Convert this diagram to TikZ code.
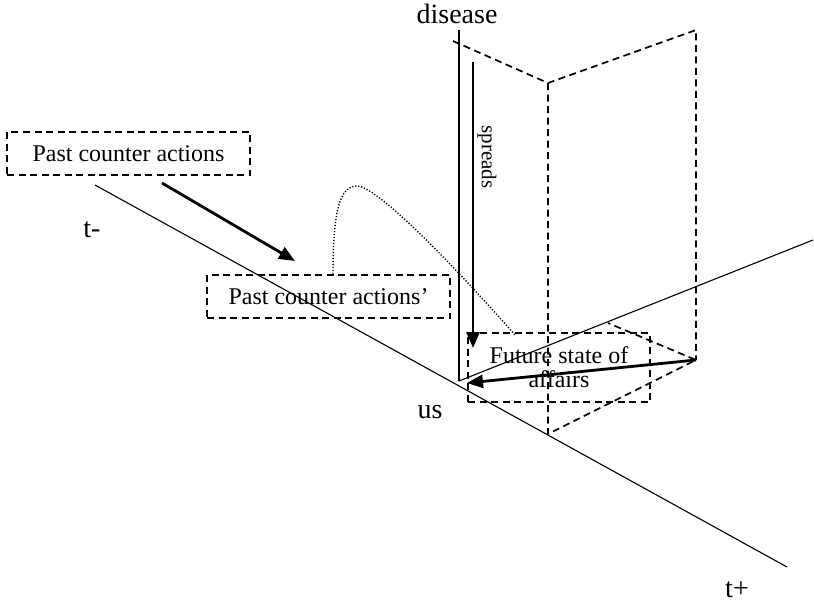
\documentclass[tikz,border=0pt]{standalone}
\usepackage{fontspec}
\setmainfont{Liberation Serif}
\usetikzlibrary{arrows.meta}
\begin{document}
\begin{tikzpicture}[x=1pt,y=-1pt,
  axis/.style={line width=1.1pt},
  dashline/.style={line width=1.7pt,dash pattern=on 7pt off 4.5pt},
  dashbox/.style={draw,line width=1.7pt,dash pattern=on 7pt off 4.5pt,inner sep=0pt,font=\fontsize{24}{24}\selectfont},
  bigarrow/.style={line width=2.8pt,-{Triangle[length=16pt,width=13pt]}},
  dotcurve/.style={line width=1.4pt,dash pattern=on 1.2pt off 1.8pt},
  lab/.style={font=\fontsize{28}{28}\selectfont,anchor=base,inner sep=0pt}]
\useasboundingbox (0,0) rectangle (814,603);
% axes
\coordinate (O) at (459,381);
\coordinate (Vtop) at (459,30);
\coordinate (Tm) at (95,185);
\coordinate (Tmend) at (787,567);
\coordinate (Tp) at (813,240);
\draw[axis] (Vtop) -- (O);
\draw[axis] (O) -- (Tp);
\draw[axis] (Tm) -- (Tmend);
% dashed planes
\coordinate (A) at (453,41);
\coordinate (B) at (548,83);
\coordinate (C) at (696,30);
\coordinate (D) at (696,360);
\coordinate (E) at (548,434);
\coordinate (F) at (608,323);
\draw[dashline] (A) -- (B) -- (C) -- (D);
\draw[dashline] (B) -- (E) -- (D) -- (F);
% boxes
\node[dashbox,minimum width=243pt,minimum height=43pt] (pca) at (128.5,153.5) {Past counter actions};
\node[dashbox,minimum width=243pt,minimum height=43pt] (pcb) at (328.5,296.5) {Past counter actions’};
\node[dashbox,minimum width=182pt,minimum height=69pt,align=center] (fut) at (559,367.5) {Future state of\\affairs};
% labels
\node[lab] (dis) at (457,23) {disease};
\node[lab] (us) at (430,418) {us};
\node[lab] (tminus) at (92,237) {t-};
\node[lab] (tplus) at (737,597) {t+};
\node[font=\fontsize{21}{21}\selectfont,rotate=-90,inner sep=0pt] (spr) at (487,157) {spreads};
% arrows
\coordinate (s1) at (162,183);
\coordinate (s2) at (295,261);
\draw[bigarrow] (s1) -- (s2);
\coordinate (sp1) at (473,62);
\coordinate (sp2) at (473,348);
\draw[bigarrow] (sp1) -- (sp2);
\coordinate (fa2) at (467,383);
\draw[bigarrow] (D) -- (fa2);
% dotted curve
\coordinate (c1) at (333,274);
\coordinate (c2) at (357,186);
\coordinate (c3) at (515,335);
\draw[dotcurve] (c1) .. controls (333,210) and (340,186) .. (c2) .. controls (375,186) and (440,250) .. (c3);
\end{tikzpicture}
\end{document}
